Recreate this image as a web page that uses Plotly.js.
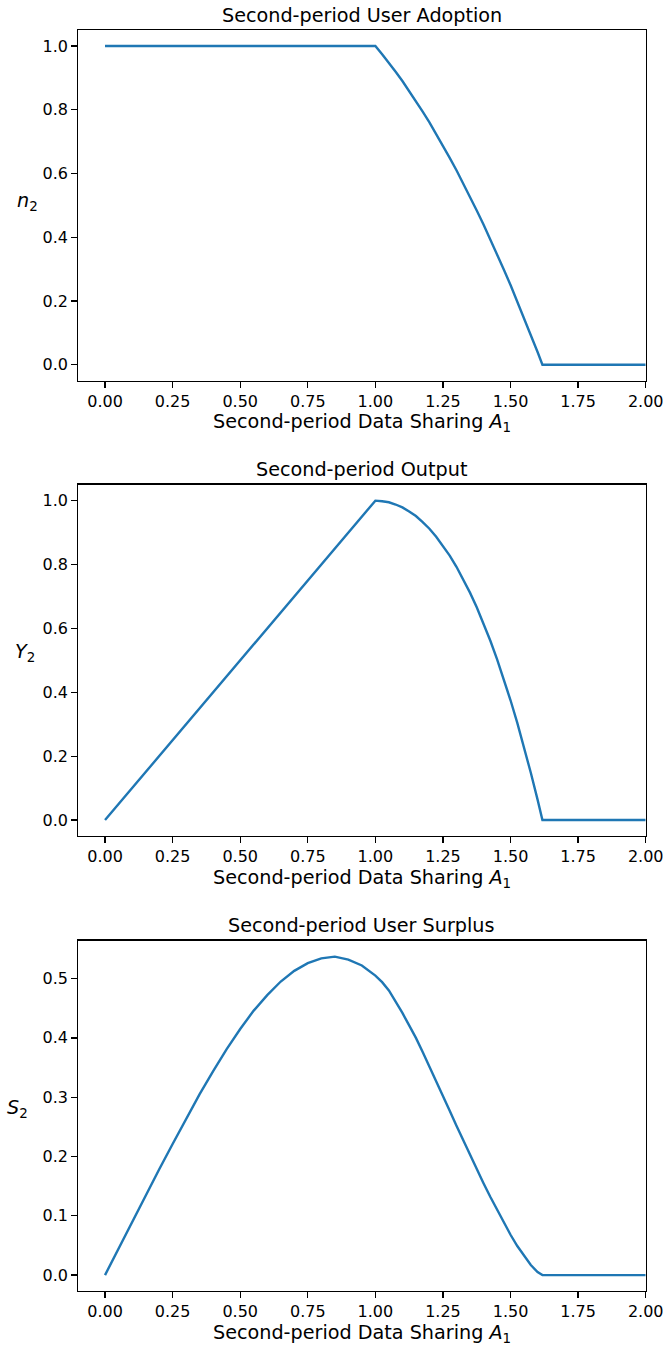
<!DOCTYPE html>
<html>
<head>
<meta charset="utf-8">
<script src="https://cdn.plot.ly/plotly-3.0.1.min.js"></script>
<style>
  html, body { margin: 0; padding: 0; background: #fff; }
  #chart { width: 665px; height: 1351px; }
</style>
</head>
<body>
<div id="chart"></div>
<script>
// Second-period data sharing A1
const sharing = [0, 0.05, 0.1, 0.15, 0.2, 0.25, 0.3, 0.35, 0.4, 0.45, 0.5, 0.55, 0.6, 0.65, 0.7, 0.75, 0.8, 0.85, 0.9, 0.95, 1.0,
  1.025, 1.05, 1.075, 1.1, 1.125, 1.15, 1.175, 1.2, 1.225, 1.25, 1.275, 1.3, 1.325, 1.35, 1.375, 1.4,
  1.425, 1.45, 1.475, 1.5, 1.525, 1.55, 1.575, 1.6, 1.618,
  1.65, 1.7, 1.75, 1.8, 1.85, 1.9, 1.95, 2.0];

// User adoption n2
const adoption = [1, 1, 1, 1, 1, 1, 1, 1, 1, 1, 1, 1, 1, 1, 1, 1, 1, 1, 1, 1, 1,
  0.974, 0.948, 0.919, 0.890, 0.859, 0.828, 0.794, 0.760, 0.724, 0.688, 0.649, 0.610, 0.569, 0.528, 0.484, 0.440,
  0.394, 0.348, 0.299, 0.250, 0.199, 0.148, 0.094, 0.040, 0,
  0, 0, 0, 0, 0, 0, 0, 0];

// Output Y2
const output = [0, 0.05, 0.1, 0.15, 0.2, 0.25, 0.3, 0.35, 0.4, 0.45, 0.5, 0.55, 0.6, 0.65, 0.7, 0.75, 0.8, 0.85, 0.9, 0.95, 1.0,
  0.998, 0.995, 0.988, 0.979, 0.966, 0.952, 0.933, 0.912, 0.887, 0.859, 0.828, 0.793, 0.754, 0.712, 0.666, 0.616,
  0.562, 0.504, 0.441, 0.375, 0.304, 0.229, 0.148, 0.064, 0,
  0, 0, 0, 0, 0, 0, 0, 0];

// User surplus S2
const surplus = [0, 0.045, 0.090, 0.134, 0.178, 0.221, 0.263, 0.305, 0.344, 0.381, 0.415, 0.446, 0.472, 0.495, 0.513, 0.526, 0.534, 0.537, 0.532, 0.522, 0.505,
  0.494, 0.480, 0.462, 0.442, 0.421, 0.400, 0.376, 0.352, 0.327, 0.302, 0.277, 0.252, 0.227, 0.202, 0.178, 0.155,
  0.132, 0.110, 0.089, 0.068, 0.049, 0.032, 0.017, 0.005, 0,
  0, 0, 0, 0, 0, 0, 0, 0];

const panelTitles = ['Second-period User Adoption', 'Second-period Output', 'Second-period User Surplus'];
const yLabels = ['<i>n</i><sub>2</sub>', '<i>Y</i><sub>2</sub>', '<i>S</i><sub>2</sub>'];
const xLabel = 'Second-period Data Sharing <i>A</i><sub>1</sub>';

const W = 665, H = 1351;
const FONT = 'DejaVu Sans, Verdana, sans-serif';
const BLUE = '#1f77b4';

// panel frames in pixels: [top, bottom]
const frames = [[30, 380.7], [484.7, 836], [940.7, 1291]];
const left = 78, right = 645.7;
const yRanges = [[-0.05, 1.05], [-0.05, 1.05], [-0.02685, 0.56385]];
const yDticks = [0.2, 0.2, 0.1];
const series = [adoption, output, surplus];

const px = v => v / W;
const py = v => 1 - v / H;

const data = series.map((ys, i) => ({
  x: sharing, y: ys, type: 'scatter', mode: 'lines',
  line: { color: BLUE, width: 2.4, shape: 'linear' },
  xaxis: i === 0 ? 'x' : 'x' + (i + 1),
  yaxis: i === 0 ? 'y' : 'y' + (i + 1),
  hoverinfo: 'skip', showlegend: false
}));

const layout = {
  width: W, height: H,
  margin: { l: 0, r: 0, t: 0, b: 0 },
  paper_bgcolor: '#fff', plot_bgcolor: '#fff',
  font: { family: FONT, color: '#000', size: 16 },
  showlegend: false,
  annotations: []
};

frames.forEach((f, i) => {
  const sfx = i === 0 ? '' : String(i + 1);
  layout['xaxis' + sfx] = {
    domain: [px(left), px(right)],
    anchor: 'y' + sfx,
    range: [-0.1, 2.0],
    tick0: 0, dtick: 0.25, tickformat: '.2f',
    ticks: 'outside', ticklen: 5.6, tickwidth: 1.28, tickcolor: '#000',
    showline: true, mirror: true, linecolor: '#000', linewidth: 1.28,
    showgrid: false, zeroline: false,
    tickfont: { family: FONT, size: 16, color: '#000' }
  };
  layout['yaxis' + sfx] = {
    domain: [py(f[1]), py(f[0])],
    anchor: 'x' + sfx,
    range: yRanges[i],
    tick0: 0, dtick: yDticks[i], tickformat: '.1f',
    ticks: 'outside', ticklen: 5.6, tickwidth: 1.28, tickcolor: '#000',
    showline: true, mirror: true, linecolor: '#000', linewidth: 1.28,
    showgrid: false, zeroline: false,
    tickfont: { family: FONT, size: 16, color: '#000' }
  };
  const cx = (left + right) / 2;
  // panel title
  layout.annotations.push({
    xref: 'paper', yref: 'paper', x: px(cx), y: py(f[0] - 15),
    xanchor: 'center', yanchor: 'middle', showarrow: false,
    text: panelTitles[i], font: { family: FONT, size: 19.2, color: '#000' }
  });
  // x axis label
  layout.annotations.push({
    xref: 'paper', yref: 'paper', x: px(cx), y: py(f[1] + 42),
    xanchor: 'center', yanchor: 'middle', showarrow: false,
    text: xLabel, font: { family: FONT, size: 19.2, color: '#000' }
  });
});

// horizontal y axis labels
const yLabelPos = [[27, 201], [25, 652], [17, 1108]];
yLabelPos.forEach((p, i) => {
  layout.annotations.push({
    xref: 'paper', yref: 'paper', x: px(p[0]), y: py(p[1]),
    xanchor: 'center', yanchor: 'middle', showarrow: false,
    text: yLabels[i], font: { family: FONT, size: 19.2, color: '#000' }
  });
});

Plotly.newPlot('chart', data, layout, { staticPlot: true, displayModeBar: false });
</script>
</body>
</html>
